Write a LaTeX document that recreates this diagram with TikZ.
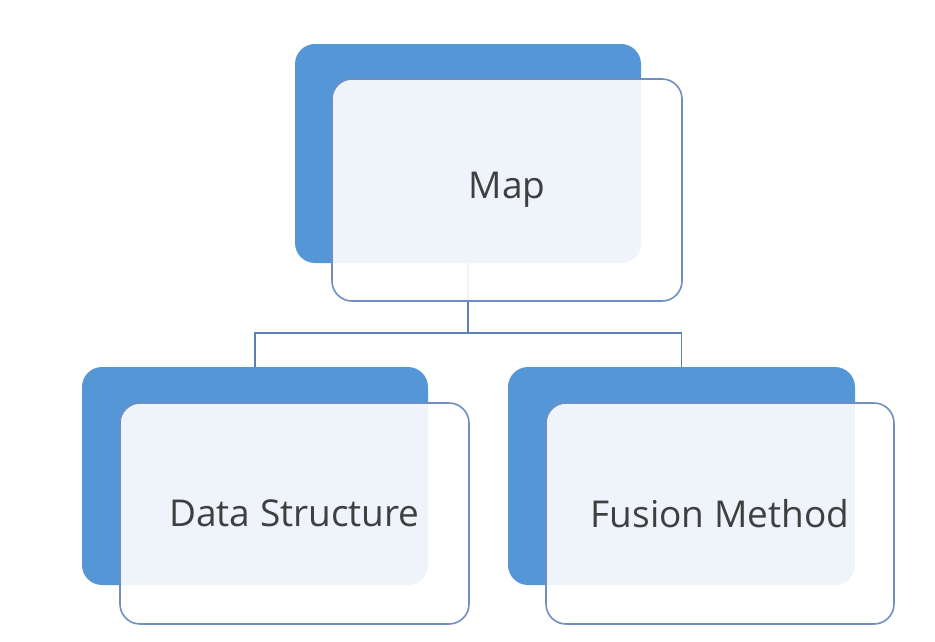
\documentclass[tikz,border=0pt]{standalone}
\usepackage{fontspec}
\setmainfont{Open Sans}
\begin{document}
\begin{tikzpicture}[x=1pt,y=-1pt,
  backbox/.style={draw=none,fill=blueback,rounded corners=20pt,inner sep=0pt},
  frontbox/.style={draw=frontline,line width=1.6pt,fill=white,fill opacity=0.9,rounded corners=20pt,inner sep=0pt},
  conn/.style={draw=connline,line width=1.6pt},
  lbl/.style={text=textgray,font=\fontsize{37}{44}\selectfont,inner sep=0pt}]
\definecolor{blueback}{HTML}{5597D6}
\definecolor{frontline}{HTML}{6F8FC2}
\definecolor{connline}{HTML}{5D80B3}
\definecolor{textgray}{HTML}{3F3F3F}
\useasboundingbox[fill=white] (0,0) rectangle (935,641);
% back boxes
\node[backbox,minimum width=346pt,minimum height=219pt] (tb) at (468,153.5) {};
\node[backbox,minimum width=346pt,minimum height=218pt] (lb) at (255,476) {};
\node[backbox,minimum width=347pt,minimum height=218pt] (rb) at (681.5,476) {};
% connectors
\coordinate (bus) at (0,333);
\draw[conn] (tb.south) -- (tb.south |- bus) -| (lb.north);
\draw[conn] (tb.south |- bus) -| (rb.north);
% front boxes
\node[frontbox,minimum width=350pt,minimum height=222pt] (tf) at (507,190) {};
\node[frontbox,minimum width=349pt,minimum height=221pt] (lf) at (294.5,513.5) {};
\node[frontbox,minimum width=348pt,minimum height=221pt] (rf) at (720,513.5) {};
% labels
\node[lbl] (tt) at (tf.center) {Map};
\node[lbl] (lt) at (lf.center) {Data Structure};
\node[lbl] (rt) at (rf.center) {Fusion Method};
\end{tikzpicture}
\end{document}
